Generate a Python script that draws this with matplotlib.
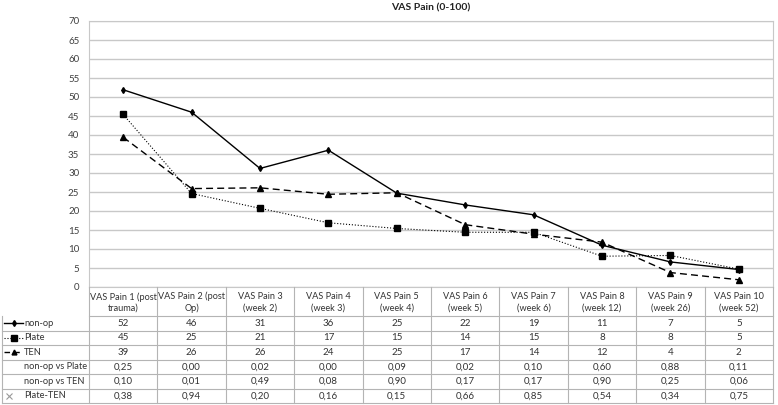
import matplotlib
matplotlib.use("Agg")
import matplotlib.pyplot as plt
from matplotlib.lines import Line2D

plt.rcParams['font.family'] = ['Lato', 'DejaVu Sans']

# Datos
categorias = ["VAS Pain 1 (post\ntrauma)", "VAS Pain 2 (post\nOp)", "VAS Pain 3\n(week 2)",
              "VAS Pain 4\n(week 3)", "VAS Pain 5\n(week 4)", "VAS Pain 6\n(week 5)",
              "VAS Pain 7\n(week 6)", "VAS Pain 8\n(week 12)", "VAS Pain 9\n(week 26)",
              "VAS Pain 10\n(week 52)"]
non_op = [51.9, 46.0, 31.2, 36.0, 24.7, 21.6, 19.0, 11.0, 6.6, 4.6]
plate = [45.4, 24.6, 20.7, 16.9, 15.4, 14.4, 14.4, 8.1, 8.3, 4.7]
ten = [39.4, 25.9, 26.1, 24.4, 24.8, 16.4, 13.9, 11.8, 3.8, 1.9]

# Valores de la tabla (redondeados)
tab_non_op = ["52", "46", "31", "36", "25", "22", "19", "11", "7", "5"]
tab_plate = ["45", "25", "21", "17", "15", "14", "15", "8", "8", "5"]
tab_ten = ["39", "26", "26", "24", "25", "17", "14", "12", "4", "2"]
p_nonop_plate = ["0,25", "0,00", "0,02", "0,00", "0,09", "0,02", "0,10", "0,60", "0,88", "0,11"]
p_nonop_ten = ["0,10", "0,01", "0,49", "0,08", "0,90", "0,17", "0,17", "0,90", "0,25", "0,06"]
p_plate_ten = ["0,38", "0,94", "0,20", "0,16", "0,15", "0,66", "0,85", "0,54", "0,34", "0,75"]

W, H = 778, 405
fig = plt.figure(figsize=(W / 100, H / 100), dpi=100)

def px(x):
    return x / W

def py(y):
    return 1 - y / H

izq, der, arriba, abajo = 89, 773, 21, 287
ax = fig.add_axes([px(izq), py(abajo), px(der - izq), py(arriba) - py(abajo)])

x = list(range(len(categorias)))
ax.plot(x, non_op, color='black', linestyle='-', linewidth=1.0, marker='d', markersize=3)
ax.plot(x, plate, color='black', linestyle=':', linewidth=0.8, marker='s', markersize=4)
ax.plot(x, ten, color='black', linestyle=(0, (5, 3)), linewidth=1.0, marker='^', markersize=4)

ax.set_xlim(-0.5, len(categorias) - 0.5)
ax.set_ylim(0, 70)
ax.set_yticks(range(0, 71, 5))
ax.set_xticks([])
ax.grid(axis='y', color='#c8c8c8', linewidth=1.0)
ax.set_axisbelow(True)
for s in ax.spines.values():
    s.set_color('#c8c8c8')
ax.tick_params(axis='y', length=0, labelsize=7, colors='#404040', pad=7)

fig.text(px((izq + der) / 2), py(8), "VAS Pain (0-100)", ha='center', va='center',
         fontsize=7.5, fontweight='bold', color='#222222')

# Tabla debajo
gris = '#b4b4b4'
ancho = (der - izq) / len(categorias)
cab_abajo = 316
alto_fila = 14.5
n_filas = 6
fondo = cab_abajo + n_filas * alto_fila

def linea(x0, x1, y0, y1):
    fig.add_artist(Line2D([px(x0), px(x1)], [py(y0), py(y1)], color=gris, linewidth=0.8))

# verticales
for i in range(len(categorias) + 1):
    linea(izq + i * ancho, izq + i * ancho, abajo, fondo)
linea(2, 2, cab_abajo, fondo)
# horizontales
linea(izq, der, cab_abajo, cab_abajo)
for j in range(1, n_filas + 1):
    linea(2, der, cab_abajo + j * alto_fila, cab_abajo + j * alto_fila)

for i, c in enumerate(categorias):
    fig.text(px(izq + (i + 0.5) * ancho), py((abajo + cab_abajo) / 2 + 1), c, ha='center',
             va='center', fontsize=6.6, color='#333333', linespacing=1.35)

filas = [tab_non_op, tab_plate, tab_ten, p_nonop_plate, p_nonop_ten, p_plate_ten]
nombres = ["non-op", "Plate", "TEN", "non-op vs Plate", "non-op vs TEN", "Plate-TEN"]
for j, (fila, nombre) in enumerate(zip(filas, nombres)):
    yc = cab_abajo + (j + 0.5) * alto_fila
    for i, v in enumerate(fila):
        fig.text(px(izq + (i + 0.5) * ancho), py(yc), v, ha='center', va='center',
                 fontsize=7, color='#333333')
    fig.text(px(24), py(yc), nombre, ha='left', va='center', fontsize=6.7, color='#333333')

# claves de la leyenda en la tabla
estilos = [('-', 'd', 3, 1.0), (':', 's', 4, 0.8), ((0, (4, 3)), '^', 3.5, 1.0)]
for j, (ls, mk, ms, lw) in enumerate(estilos):
    yc = cab_abajo + (j + 0.5) * alto_fila
    fig.add_artist(Line2D([px(4), px(23)], [py(yc), py(yc)], color='black', linestyle=ls,
                          linewidth=lw))
    fig.add_artist(Line2D([px(13.5)], [py(yc)], color='black', marker=mk, markersize=ms))
yc = cab_abajo + 5.5 * alto_fila
fig.add_artist(Line2D([px(9)], [py(yc)], color='#999999', marker='x', markersize=4,
                      markeredgewidth=0.8))

fig.savefig("out.png", dpi=100)
